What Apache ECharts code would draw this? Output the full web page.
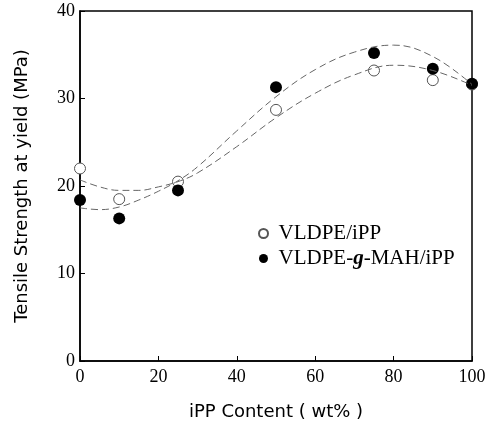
<!DOCTYPE html>
<html>
<head>
<meta charset="utf-8">
<script src="https://cdn.jsdelivr.net/npm/echarts@6/dist/echarts.min.js"></script>
<style>
  html, body { margin: 0; padding: 0; background: #fff; }
  #chart { width: 492px; height: 426px; }
</style>
</head>
<body>
<div id="chart"></div>
<script>
var ippContent = [0, 10, 25, 50, 75, 90, 100];
var vldpeIpp = [22.0, 18.5, 20.5, 28.7, 33.2, 32.1, 31.6];
var vldpeMahIpp = [18.4, 16.3, 19.5, 31.3, 35.2, 33.4, 31.7];

// fitted curves
var fitX = [0, 5, 10, 15, 20, 25, 30, 40, 50, 60, 70, 80, 90, 100];
var fitOpen = [20.7, 19.9, 19.5, 19.5, 19.9, 20.5, 21.5, 24.5, 27.8, 30.6, 32.7, 33.8, 33.2, 31.5];
var fitFilled = [17.5, 17.3, 17.6, 18.4, 19.4, 20.6, 22.2, 26.3, 30.2, 33.3, 35.3, 36.1, 34.8, 31.6];

var xTicks = [0, 20, 40, 60, 80, 100];
var yTicks = [0, 10, 20, 30, 40];

function pairs(xs, ys) {
  var out = [];
  for (var i = 0; i < xs.length; i++) {
    out.push([xs[i], ys[i]]);
  }
  return out;
}

var serif = "Liberation Serif";
var sans = "DejaVu Sans";
var chart = echarts.init(document.getElementById("chart"));

var option = {
  animation: false,
  textStyle: { fontFamily: serif },
  grid: {
    left: 80,
    right: 20,
    top: 11,
    bottom: 65,
    show: true,
    borderColor: "#000",
    borderWidth: 1.5,
  },
  legend: {
    data: ["VLDPE/iPP", "VLDPE-g-MAH/iPP"],
    orient: "vertical",
    left: 258,
    top: 223,
    padding: 0,
    itemGap: 4,
    itemWidth: 20,
    itemHeight: 9,
    textStyle: {
      fontFamily: serif,
      fontSize: 21,
      color: "#000",
      rich: {
        n: { fontFamily: serif, fontSize: 21, color: "#000" },
        g: { fontFamily: serif, fontSize: 21, color: "#000", fontStyle: "italic", fontWeight: "bold" },
      },
    },
    formatter: function (name) {
      if (name === "VLDPE-g-MAH/iPP") {
        return "{n|VLDPE-}{g|g}{n|-MAH/iPP}";
      }
      return "{n|" + name + "}";
    },
  },
  xAxis: {
    type: "value",
    min: 0,
    max: 100,
    interval: 20,
    name: "iPP Content ( wt% )",
    nameLocation: "middle",
    nameGap: 42,
    nameTextStyle: { fontFamily: sans, fontSize: 18, color: "#000" },
    axisLine: { lineStyle: { color: "#000", width: 1.5 } },
    axisTick: { inside: true, length: 5, lineStyle: { color: "#000" } },
    axisLabel: { fontFamily: serif, fontSize: 18, color: "#000", margin: 7 },
    splitLine: { show: false },
  },
  yAxis: {
    type: "value",
    min: 0,
    max: 40,
    interval: 10,
    name: "Tensile Strength at yield (MPa)",
    nameLocation: "middle",
    nameGap: 49,
    nameTextStyle: { fontFamily: sans, fontSize: 18, color: "#000" },
    axisLine: { lineStyle: { color: "#000", width: 1.5 } },
    axisTick: { inside: true, length: 5, lineStyle: { color: "#000" } },
    axisLabel: { fontFamily: serif, fontSize: 18, color: "#000", margin: 5 },
    splitLine: { show: false },
  },
  series: [
    {
      name: "fitOpen",
      type: "line",
      data: pairs(fitX, fitOpen),
      smooth: 0.4,
      showSymbol: false,
      silent: true,
      lineStyle: { color: "#666", width: 1, type: [7, 4] },
    },
    {
      name: "fitFilled",
      type: "line",
      data: pairs(fitX, fitFilled),
      smooth: 0.4,
      showSymbol: false,
      silent: true,
      lineStyle: { color: "#666", width: 1, type: [7, 4] },
    },
    {
      name: "VLDPE/iPP",
      type: "scatter",
      data: pairs(ippContent, vldpeIpp),
      symbol: "circle",
      symbolSize: 11,
      itemStyle: { color: "#fff", borderColor: "#555", borderWidth: 1, opacity: 1 },
    },
    {
      name: "VLDPE-g-MAH/iPP",
      type: "scatter",
      data: pairs(ippContent, vldpeMahIpp),
      symbol: "circle",
      symbolSize: 12,
      itemStyle: { color: "#000", opacity: 1 },
    },
  ],
};

chart.setOption(option);
</script>
</body>
</html>
